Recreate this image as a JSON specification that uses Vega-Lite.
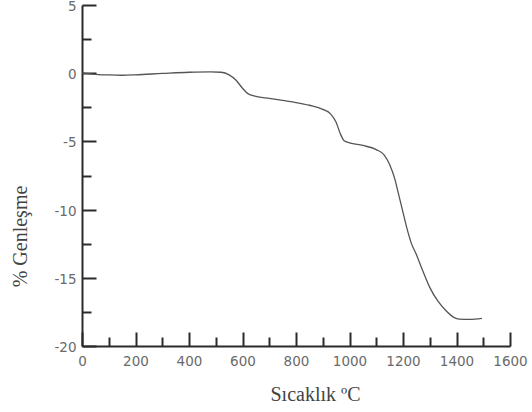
{
  "$schema": "https://vega.github.io/schema/vega-lite/v6.json",
  "width": 428,
  "height": 341,
  "autosize": {"type": "none"},
  "padding": {"left": 82, "top": 5, "right": 22, "bottom": 66},
  "background": "white",
  "config": {
    "view": {"stroke": null},
    "axis": {
      "grid": false,
      "domainColor": "#2a2a2a",
      "domainWidth": 2,
      "tickColor": "#2a2a2a",
      "tickWidth": 2,
      "labelFont": "DejaVu Sans",
      "labelFontSize": 13.5,
      "labelColor": "#6a6a6a",
      "labelOverlap": false,
      "labelFlush": false,
      "titleFont": "Liberation Serif",
      "titleFontSize": 20,
      "titleFontWeight": "normal",
      "titleColor": "#444444"
    }
  },
  "data": {
    "values": [
      {"t": 0, "g": 0},
      {"t": 50, "g": -0.08},
      {"t": 100, "g": -0.13},
      {"t": 150, "g": -0.15},
      {"t": 200, "g": -0.12},
      {"t": 300, "g": -0.02},
      {"t": 400, "g": 0.07},
      {"t": 480, "g": 0.1},
      {"t": 520, "g": 0.07},
      {"t": 550, "g": -0.12},
      {"t": 575, "g": -0.5},
      {"t": 600, "g": -1.1},
      {"t": 620, "g": -1.5},
      {"t": 650, "g": -1.7},
      {"t": 700, "g": -1.85},
      {"t": 750, "g": -2.0},
      {"t": 800, "g": -2.15},
      {"t": 850, "g": -2.35},
      {"t": 900, "g": -2.65},
      {"t": 930, "g": -3.0},
      {"t": 950, "g": -3.6},
      {"t": 965, "g": -4.4},
      {"t": 980, "g": -4.95},
      {"t": 1000, "g": -5.1},
      {"t": 1050, "g": -5.3},
      {"t": 1100, "g": -5.6},
      {"t": 1130, "g": -6.0},
      {"t": 1150, "g": -6.7},
      {"t": 1170, "g": -7.8},
      {"t": 1185, "g": -9.0},
      {"t": 1200, "g": -10.2},
      {"t": 1215, "g": -11.4},
      {"t": 1230, "g": -12.4},
      {"t": 1250, "g": -13.3},
      {"t": 1270, "g": -14.3},
      {"t": 1300, "g": -15.7},
      {"t": 1330, "g": -16.7},
      {"t": 1360, "g": -17.4},
      {"t": 1390, "g": -17.9},
      {"t": 1410, "g": -18.03},
      {"t": 1450, "g": -18.05},
      {"t": 1495, "g": -17.97}
    ]
  },
  "mark": {"type": "line", "interpolate": "monotone", "color": "#555555", "strokeWidth": 1.3},
  "encoding": {
    "x": {
      "field": "t",
      "type": "quantitative",
      "scale": {"domain": [0, 1600], "nice": false, "zero": false},
      "axis": {
        "orient": "bottom",
        "title": "Sıcaklık ºC",
        "format": "d",
        "values": [0, 100, 200, 300, 400, 500, 600, 700, 800, 900, 1000, 1100, 1200, 1300, 1400, 1500, 1600],
        "tickSize": {"condition": {"test": "datum.value % 200 === 0", "value": -14}, "value": -9},
        "labelExpr": "datum.value % 200 === 0 ? datum.label : ''",
        "labelPadding": 22,
        "titleX": 233,
        "titleY": 48,
        "titleBaseline": "middle",
        "titleAnchor": "middle"
      }
    },
    "y": {
      "field": "g",
      "type": "quantitative",
      "scale": {"domain": [-20, 5], "nice": false, "zero": false},
      "axis": {
        "orient": "left",
        "title": "% Genleşme",
        "format": "d",
        "values": [-20, -17.5, -15, -12.5, -10, -7.5, -5, -2.5, 0, 2.5, 5],
        "tickSize": {"condition": {"test": "datum.value % 5 === 0", "value": -14}, "value": -9},
        "labelExpr": "datum.value % 5 === 0 ? replace(datum.label, '−', '-') : ''",
        "labelPadding": 20,
        "labelOffset": 1.5,
        "titleX": -62,
        "titleY": 231,
        "titleBaseline": "middle",
        "titleAnchor": "middle"
      }
    }
  }
}
